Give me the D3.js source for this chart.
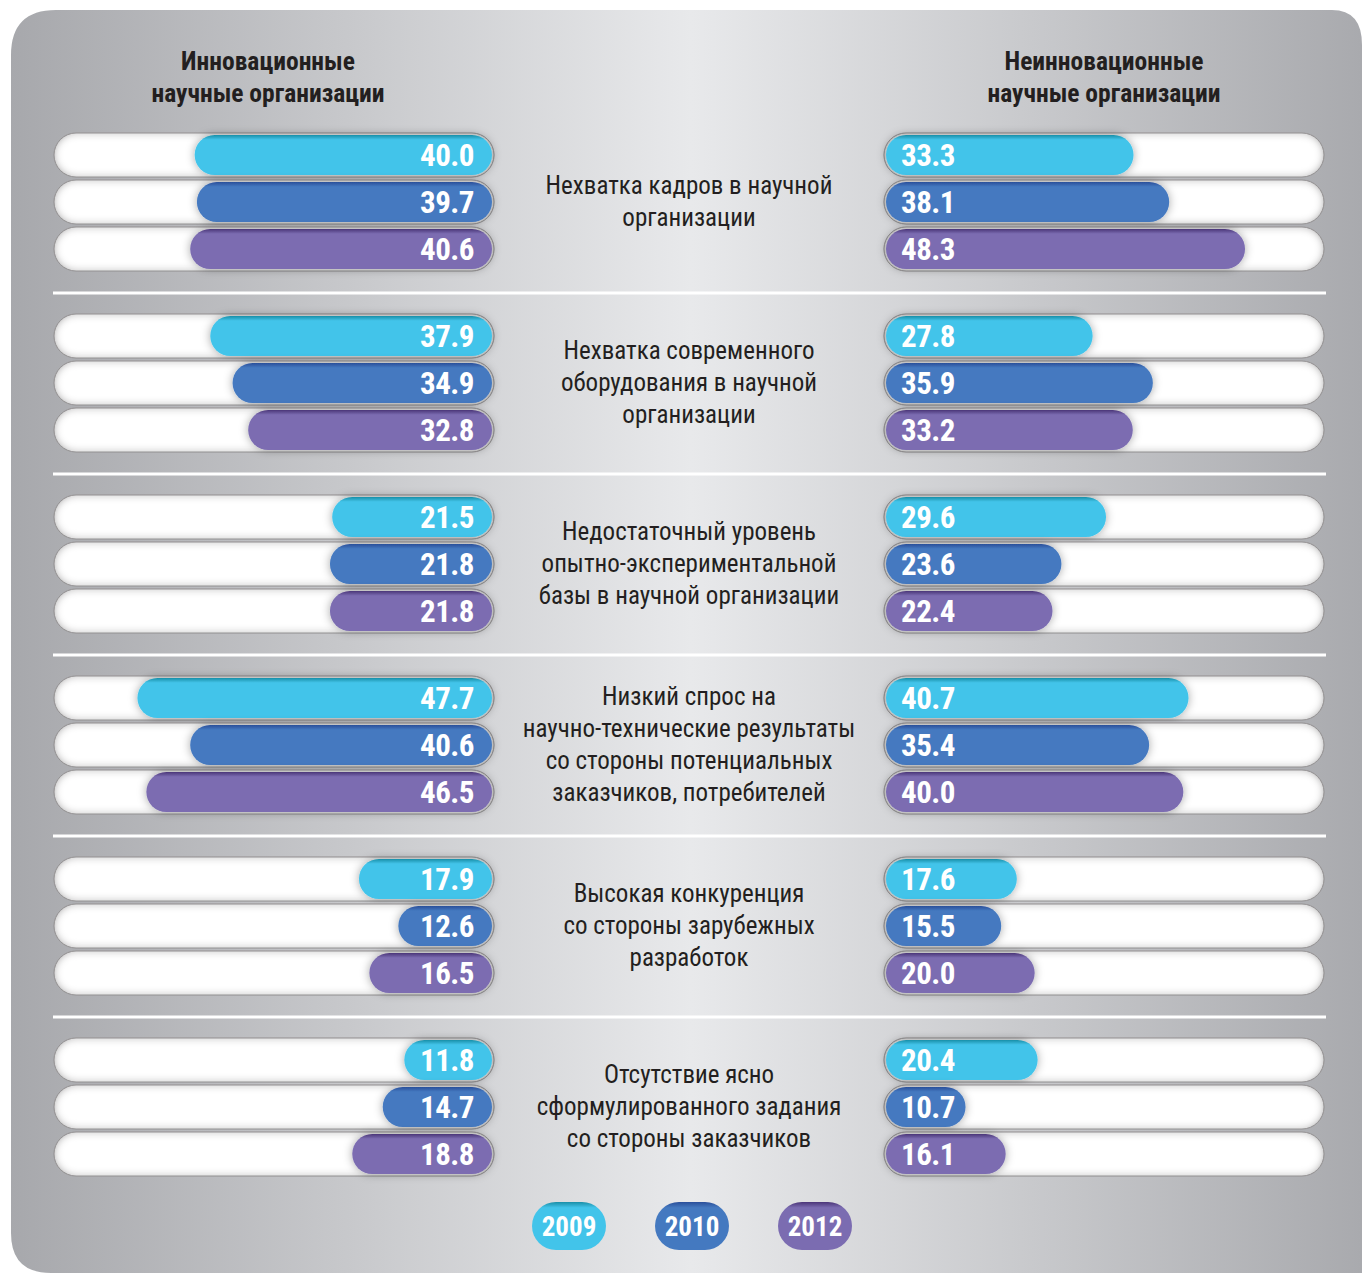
<!DOCTYPE html>
<html>
<head>
<meta charset="utf-8">
<script src="https://cdn.jsdelivr.net/npm/d3@7"></script>
<style>
  body { margin: 0; background: #fff; }
  svg { display: block; }
  .cond { font-family: 'Roboto Condensed', 'Liberation Sans Narrow', 'DejaVu Sans Condensed', 'Roboto', sans-serif; font-stretch: condensed; }
</style>
</head>
<body>
<div id="chart"></div>
<script>
// chart size
const width = 1362;
const height = 1273;

// data
const categories = [
  ["Нехватка кадров в научной", "организации"],
  ["Нехватка современного", "оборудования в научной", "организации"],
  ["Недостаточный уровень", "опытно-экспериментальной", "базы в научной организации"],
  ["Низкий спрос на", "научно-технические результаты", "со стороны потенциальных", "заказчиков, потребителей"],
  ["Высокая конкуренция", "со стороны зарубежных", "разработок"],
  ["Отсутствие ясно", "сформулированного задания", "со стороны заказчиков"]
];
const years = ["2009", "2010", "2012"];
const innov2009 = [40.0, 37.9, 21.5, 47.7, 17.9, 11.8];
const innov2010 = [39.7, 34.9, 21.8, 40.6, 12.6, 14.7];
const innov2012 = [40.6, 32.8, 21.8, 46.5, 16.5, 18.8];
const nonInnov2009 = [33.3, 27.8, 29.6, 40.7, 17.6, 20.4];
const nonInnov2010 = [38.1, 35.9, 23.6, 35.4, 15.5, 10.7];
const nonInnov2012 = [48.3, 33.2, 22.4, 40.0, 20.0, 16.1];
const headers = [["Инновационные", "научные организации"], ["Неинновационные", "научные организации"]];

const innov = [innov2009, innov2010, innov2012];
const nonInnov = [nonInnov2009, nonInnov2010, nonInnov2012];
const colors = ["#42c4ea", "#4479c0", "#7b6cb1"];
const darkTops = ["#1a8fa8", "#2a4f9a", "#4b3578"];

const svg = d3.select('#chart')
  .append('svg')
  .attr('width', width)
  .attr('height', height);

const defs = svg.append('defs');

// background gradient
const bg = defs.append('linearGradient').attr('id', 'bg').attr('x1', 0).attr('x2', 1).attr('y1', 0).attr('y2', 0);
bg.append('stop').attr('offset', '0%').attr('stop-color', '#a7a8ac');
bg.append('stop').attr('offset', '50%').attr('stop-color', '#e8e9eb');
bg.append('stop').attr('offset', '100%').attr('stop-color', '#a8a9ad');

// bar gradients (darker top edge)
colors.forEach((c, i) => {
  const g = defs.append('linearGradient').attr('id', `bar${i}`).attr('x1', 0).attr('x2', 0).attr('y1', 0).attr('y2', 1);
  g.append('stop').attr('offset', '0%').attr('stop-color', darkTops[i]);
  g.append('stop').attr('offset', '12%').attr('stop-color', c);
  g.append('stop').attr('offset', '100%').attr('stop-color', c);
});

// soft shadow for bars
const sh = defs.append('filter').attr('id', 'shadow').attr('x', '-20%').attr('y', '-40%').attr('width', '140%').attr('height', '180%');
sh.append('feGaussianBlur').attr('in', 'SourceAlpha').attr('stdDeviation', 5).attr('result', 'b');
sh.append('feFlood').attr('flood-color', '#000').attr('flood-opacity', 0.35);
sh.append('feComposite').attr('in2', 'b').attr('operator', 'in').attr('result', 's');
const m = sh.append('feMerge');
m.append('feMergeNode').attr('in', 's');
m.append('feMergeNode').attr('in', 'SourceGraphic');

// inner shadow for the white tracks
const inner = defs.append('filter').attr('id', 'inner');
inner.append('feFlood').attr('flood-color', '#8d8b8c');
inner.append('feComposite').attr('in2', 'SourceAlpha').attr('operator', 'out').attr('result', 'inv');
inner.append('feGaussianBlur').attr('in', 'inv').attr('stdDeviation', 4).attr('result', 'blur');
inner.append('feComposite').attr('in', 'blur').attr('in2', 'SourceAlpha').attr('operator', 'in').attr('result', 'ishadow');
const im = inner.append('feMerge');
im.append('feMergeNode').attr('in', 'SourceGraphic');
im.append('feMergeNode').attr('in', 'ishadow');

// background shape
const bx0 = 11, by0 = 10, bx1 = 1372, by1 = 1273;
svg.append('path')
  .attr('d', `M${bx0},${by0 + 45} Q${bx0},${by0} ${bx0 + 45},${by0} L${bx1 - 40},${by0} Q${bx1 - 10},${by0} ${bx1 - 10},${by0 + 35}
    L${bx1},${by1} L${bx0 + 40},${by1} Q${bx0},${by1} ${bx0},${by1 - 40} Z`)
  .attr('fill', 'url(#bg)');

// scales
const x = d3.scaleLinear().domain([0, 60]).range([0, 446]);
const groupY = d3.scaleBand().domain(d3.range(categories.length)).range([110, 1196]);
const rowY = d3.scaleLinear().domain([0, 1]).range([45, 92]);

const leftEnd = 494, rightStart = 884, trackLen = 440;
const barH = 40, trackH = 44;

// headers
const hx = [268, 1104];
headers.forEach((h, i) => {
  svg.append('text')
    .attr('class', 'cond')
    .attr('x', hx[i]).attr('y', 70)
    .attr('text-anchor', 'middle')
    .attr('font-size', 25.5).attr('font-weight', 'bold')
    .attr('fill', '#231f20')
    .selectAll('tspan').data(h).enter().append('tspan')
    .attr('x', hx[i]).attr('dy', (d, k) => k === 0 ? 0 : 32)
    .text(d => d);
});

// separators
svg.append('g').selectAll('rect')
  .data(d3.range(1, categories.length))
  .enter().append('rect')
  .attr('x', 53).attr('width', 1273)
  .attr('y', d => groupY(d) + 0.5).attr('height', 3)
  .attr('fill', '#fff');

// groups
const groups = svg.append('g').selectAll('g')
  .data(categories)
  .enter().append('g')
  .attr('transform', (d, i) => `translate(0,${groupY(i)})`);

groups.each(function (cat, i) {
  const g = d3.select(this);
  years.forEach((yr, j) => {
    const cy = rowY(j);
    // tracks
    [54, rightStart].forEach(tx => {
      g.append('rect')
        .attr('x', tx).attr('y', cy - trackH / 2)
        .attr('width', trackLen).attr('height', trackH)
        .attr('rx', trackH / 2)
        .attr('fill', '#fff')
        .attr('stroke', '#9c9a9b').attr('stroke-width', 1)
        .attr('filter', 'url(#inner)');
    });
    // left bar
    const lv = innov[j][i];
    const rv = nonInnov[j][i];
    g.append('rect')
      .attr('x', leftEnd - 2 - x(lv)).attr('y', cy - barH / 2)
      .attr('width', x(lv)).attr('height', barH)
      .attr('rx', barH / 2)
      .attr('fill', `url(#bar${j})`)
      .attr('filter', 'url(#shadow)');
    g.append('text')
      .attr('class', 'cond')
      .attr('x', 474).attr('y', cy + 11)
      .attr('text-anchor', 'end')
      .attr('font-size', 31).attr('font-weight', 'bold')
      .attr('letter-spacing', -0.5)
      .attr('fill', '#fff')
      .text(lv.toFixed(1));
    // right bar
    g.append('rect')
      .attr('x', rightStart + 2).attr('y', cy - barH / 2)
      .attr('width', x(rv)).attr('height', barH)
      .attr('rx', barH / 2)
      .attr('fill', `url(#bar${j})`)
      .attr('filter', 'url(#shadow)');
    g.append('text')
      .attr('class', 'cond')
      .attr('x', 901).attr('y', cy + 11)
      .attr('text-anchor', 'start')
      .attr('font-size', 31).attr('font-weight', 'bold')
      .attr('letter-spacing', -0.5)
      .attr('fill', '#fff')
      .text(rv.toFixed(1));
  });
  // category label
  const lh = 32;
  const top = rowY(1) + 8 - (cat.length - 1) * lh / 2;
  g.append('text')
    .attr('class', 'cond')
    .attr('text-anchor', 'middle')
    .attr('font-size', 25)
    .attr('fill', '#231f20')
    .selectAll('tspan').data(cat).enter().append('tspan')
    .attr('x', 689).attr('y', (d, k) => top + k * lh)
    .text(d => d);
});

// legend
const legendX = d3.scalePoint().domain(years).range([569, 815]);
const legend = svg.append('g').selectAll('g')
  .data(years).enter().append('g')
  .attr('transform', d => `translate(${legendX(d)},1226)`);
legend.append('rect')
  .attr('x', -37).attr('y', -24).attr('width', 74).attr('height', 48).attr('rx', 24)
  .attr('fill', (d, i) => `url(#bar${i})`);
legend.append('text')
  .attr('class', 'cond')
  .attr('text-anchor', 'middle').attr('y', 10)
  .attr('font-size', 27).attr('font-weight', 'bold')
  .attr('fill', '#fff')
  .text(d => d);
</script>
</body>
</html>
